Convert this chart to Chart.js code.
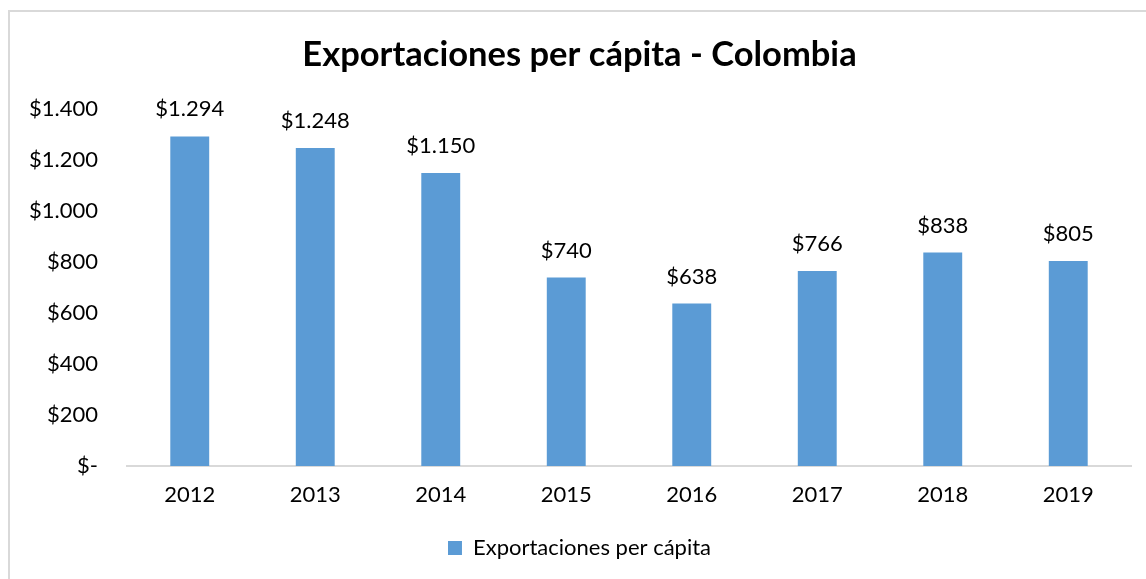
<!DOCTYPE html>
<html>
<head>
<meta charset="utf-8">
<script src="https://cdn.jsdelivr.net/npm/chart.js@4/dist/chart.umd.min.js"></script>
<style>
  html, body { margin: 0; padding: 0; background: #fff; overflow: hidden; }
  #frame { position: absolute; left: 8px; top: 10px; width: 1150px; height: 590px; border: 2px solid #d9d9d9; box-sizing: border-box; }
  #wrap { position: absolute; left: 0; top: 0; width: 1146px; height: 579px; }
</style>
</head>
<body>
<div id="frame"></div>
<div id="wrap"><canvas id="barChart"></canvas></div>
<script>
var years = ['2012', '2013', '2014', '2015', '2016', '2017', '2018', '2019'];
var exportsPerCapita = [1294, 1248, 1150, 740, 638, 766, 838, 805];
var seriesName = 'Exportaciones per cápita';
var chartTitle = 'Exportaciones per cápita - Colombia';

var FONT = 'Lato, Calibri, Carlito, sans-serif';
var TEXT_SIZE = 22;

// 1294 -> "$1.294", 0 -> "$-"
function money(v) {
  if (v === 0) return '$-';
  return '$' + String(Math.round(v)).replace(/\B(?=(\d{3})+(?!\d))/g, '.');
}

// value labels above each bar
var barLabels = {
  id: 'barLabels',
  afterDatasetsDraw: function (chart) {
    var ctx = chart.ctx;
    var meta = chart.getDatasetMeta(0);
    ctx.save();
    ctx.font = TEXT_SIZE + 'px ' + FONT;
    ctx.fillStyle = '#000';
    ctx.textAlign = 'center';
    ctx.textBaseline = 'middle';
    meta.data.forEach(function (bar, i) {
      ctx.fillText(money(chart.data.datasets[0].data[i]), bar.x, bar.y - 27);
    });
    ctx.restore();
  }
};

var barChartCanvas = document.getElementById('barChart').getContext('2d');
new Chart(barChartCanvas, {
  type: 'bar',
  data: {
    labels: years,
    datasets: [{
      label: seriesName,
      data: exportsPerCapita,
      backgroundColor: '#5b9bd5',
      borderWidth: 0,
      categoryPercentage: 1,
      barPercentage: 0.31
    }]
  },
  options: {
    responsive: true,
    maintainAspectRatio: false,
    animation: false,
    layout: { padding: { left: 28, right: 15, top: 0, bottom: 10 } },
    plugins: {
      title: {
        display: true,
        text: chartTitle,
        color: '#000',
        font: { family: FONT, size: 34.5, weight: 'bold' },
        padding: { top: 34, bottom: 34 }
      },
      legend: {
        position: 'bottom',
        labels: {
          color: '#000',
          font: { family: FONT, size: TEXT_SIZE },
          boxWidth: 14,
          boxHeight: 14,
          padding: 20
        }
      },
      tooltip: { enabled: false }
    },
    scales: {
      x: {
        grid: { display: false, drawTicks: false },
        border: { display: true, color: '#d9d9d9', width: 2 },
        ticks: { color: '#000', font: { family: FONT, size: TEXT_SIZE }, padding: 16 },
        afterFit: function (scale) { scale.height = 51; }
      },
      y: {
        min: 0,
        max: 1400,
        grid: { display: false, drawTicks: false },
        border: { display: false },
        ticks: {
          stepSize: 200,
          color: '#000',
          font: { family: FONT, size: TEXT_SIZE },
          padding: 29,
          callback: function (v) { return money(v); }
        },
        afterFit: function (scale) { scale.width = 99; }
      }
    }
  },
  plugins: [barLabels]
});
</script>
</body>
</html>
